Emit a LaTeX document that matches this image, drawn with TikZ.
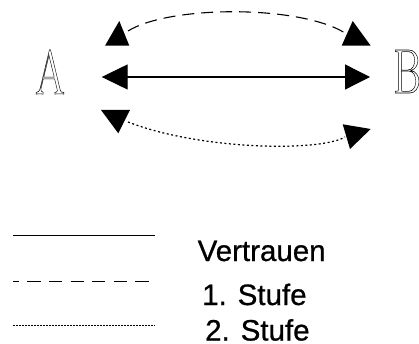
\documentclass[tikz,border=0pt]{standalone}
\usepackage{fontspec}
\usetikzlibrary{arrows.meta}
\newfontfamily\legendfont[FakeBold=0.8]{Liberation Sans}
% letters drawn as outlines (PDF text render mode 1)
\newcommand{\outlined}[1]{\special{pdf:code q 1 Tr 0.6 w}#1\special{pdf:code Q}}
\begin{document}
\begin{tikzpicture}[x=1pt,y=-1pt,
  letter/.style={inner sep=0pt, anchor=base, font=\fontsize{63}{63}\selectfont},
  legendtext/.style={inner sep=0pt, anchor=base west, font=\legendfont\fontsize{29.5}{36}\selectfont},
  head/.style={fill=black},
  twoway/.style={line width=1.3pt, {Triangle[length=26pt,width=25pt]}-{Triangle[length=25pt,width=25pt]}},
  arcdash/.style={line width=1.1pt, dash pattern=on 12pt off 7pt},
  arcdot/.style={line width=1.2pt, dash pattern=on 2pt off 2.5pt},
  legendline/.style={line width=0.9pt}]
\useasboundingbox (0,0) rectangle (419,344);

% the two parties
\node[letter] (A) at (50,94) {\outlined{\scalebox{0.68}[1]{A}}};
\node[letter] (B) at (407,93) {\outlined{\scalebox{0.68}[1]{B}}};

% trust (solid, both ways)
\coordinate (sL) at (101.7,77);
\coordinate (sR) at (370,77);
\draw[twoway] (sL) -- (sR);

% first level (dashed arc above)
\coordinate (tL) at (128,31);
\coordinate (tR) at (345,33);
\draw[arcdash] (tL) .. controls (170,5) and (300,5) .. (tR);
\fill[head] (105,45.7) -- (119.3,21) -- (129.3,45.7) -- cycle;
\fill[head] (341.7,45.7) -- (352.7,21) -- (370.7,45.7) -- cycle;

% second level (dotted arc below)
\coordinate (bL) at (128,122);
\coordinate (bR) at (345,137);
\draw[arcdot] (bL) .. controls (200,150) and (320,152) .. (bR);
\fill[head] (101,110) -- (130,110) -- (118.3,133.3) -- cycle;
\fill[head] (342.7,124.3) -- (370.7,129) -- (350,149) -- cycle;

% legend
\coordinate (k1a) at (13,235);  \coordinate (k1b) at (155,235);
\coordinate (k2a) at (13,281);  \coordinate (k2b) at (155,281);
\coordinate (k3a) at (13,325);  \coordinate (k3b) at (155,325);
\draw[legendline] (k1a) -- (k1b);
\draw[legendline, dash pattern=on 13.3pt off 8.3pt, dash phase=7.3pt] (k2a) -- (k2b);
\draw[legendline, dash pattern=on 1.5pt off 1.5pt] (k3a) -- (k3b);
\node[legendtext] (t1) at (197.5,261) {Vertrauen};
\node[legendtext] (t2) at (202,305) {1. Stufe};
\node[legendtext] (t3) at (205,340.5) {2. Stufe};
\end{tikzpicture}
\end{document}
